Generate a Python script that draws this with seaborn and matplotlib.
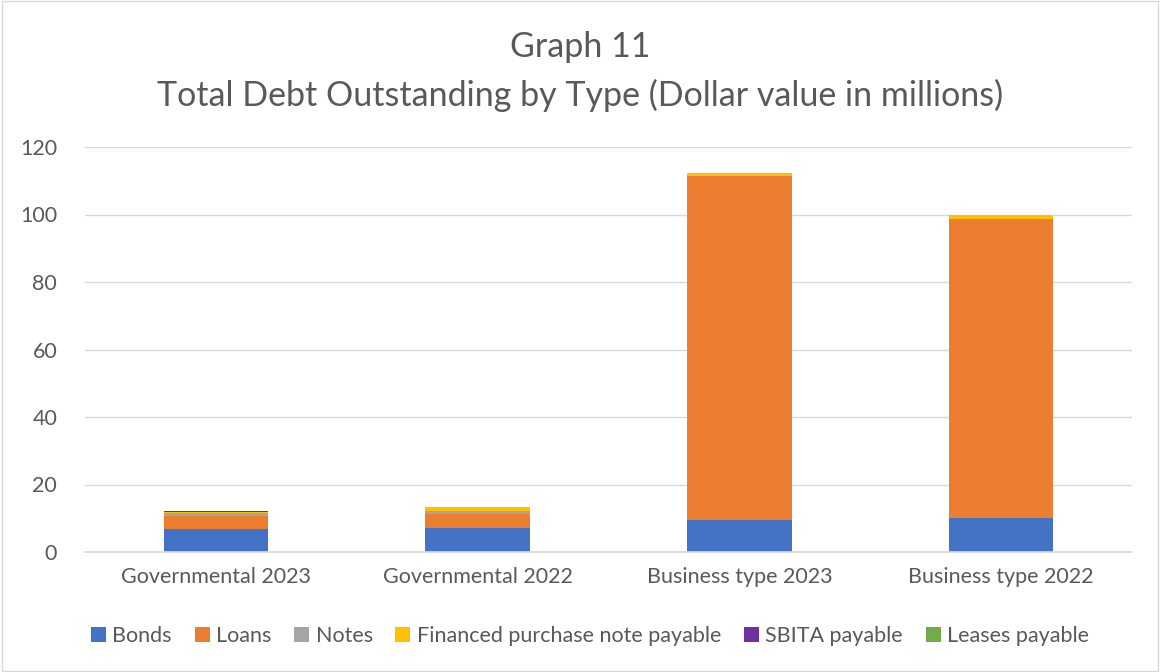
from matplotlib import pyplot as plt
import seaborn as sns
import pandas as pd
import numpy as np

sns.set_theme(style="white")
plt.rcParams['font.family'] = ['Lato', 'DejaVu Sans']

# Data (millions of dollars)
categories = ["Governmental 2023", "Governmental 2022", "Business type 2023", "Business type 2022"]
debt_types = ["Bonds", "Loans", "Notes", "Financed purchase note payable", "SBITA payable", "Leases payable"]
bonds = [6.8, 7.2, 9.4, 10.1]
loans = [4.0, 3.95, 102.1, 88.7]
notes = [0.7, 0.95, 0.0, 0.0]
financed = [0.5, 1.1, 0.7, 1.0]
sbita = [0.05, 0.05, 0.0, 0.0]
leases = [0.1, 0.2, 0.05, 0.05]
colors = ["#4472C4", "#ED7D31", "#A5A5A5", "#FFC000", "#7030A0", "#70AD47"]

series = [bonds, loans, notes, financed, sbita, leases]

fig = plt.figure(figsize=(11.6, 6.72), dpi=100)
ax = fig.add_axes([85 / 1160, 1 - 552 / 672, 1047 / 1160, 405 / 672])

bottom = np.zeros(len(categories))
for name, vals, col in zip(debt_types, series, colors):
    df = pd.DataFrame({"Category": categories, "Value": vals})
    sns.barplot(data=df, x="Category", y="Value", color=col, width=0.4,
                bottom=bottom, ax=ax, label=name, linewidth=0, saturation=1)
    bottom = bottom + np.array(vals)

ax.set_ylim(0, 120)
ax.set_yticks(range(0, 121, 20))
ax.set_xlim(-0.5, 3.5)
ax.yaxis.grid(True, color="#D9D9D9", linewidth=1)
ax.set_axisbelow(True)
for s in ["top", "right", "left"]:
    ax.spines[s].set_visible(False)
ax.spines["bottom"].set_color("#D9D9D9")
ax.set_xlabel("")
ax.set_ylabel("")
ax.tick_params(axis="both", colors="#595959", labelsize=15.5, length=0)
ax.tick_params(axis="y", pad=20)
ax.tick_params(axis="x", pad=11)

handles, labels = ax.get_legend_handles_labels()
ax.get_legend().remove()

fig.text(0.5, 1 - 47 / 672, "Graph 11", ha="center", va="center", fontsize=24.5, color="#595959")
fig.text(0.5, 1 - 95 / 672, "Total Debt Outstanding by Type (Dollar value in millions)",
         ha="center", va="center", fontsize=24.5, color="#595959")

fig.legend(handles, labels, loc="center", bbox_to_anchor=(0.5 + 10 / 1160, 1 - 636 / 672), ncol=6,
           frameon=False, fontsize=15.5, handlelength=0.7, handleheight=0.7,
           handletextpad=0.3, columnspacing=1.05, labelcolor="#595959")

border = plt.Rectangle((0.002, 0.002), 0.996, 0.996, transform=fig.transFigure,
                       fill=False, edgecolor="#D9D9D9", linewidth=1)
fig.patches.append(border)

plt.savefig("out.png", dpi=100)
